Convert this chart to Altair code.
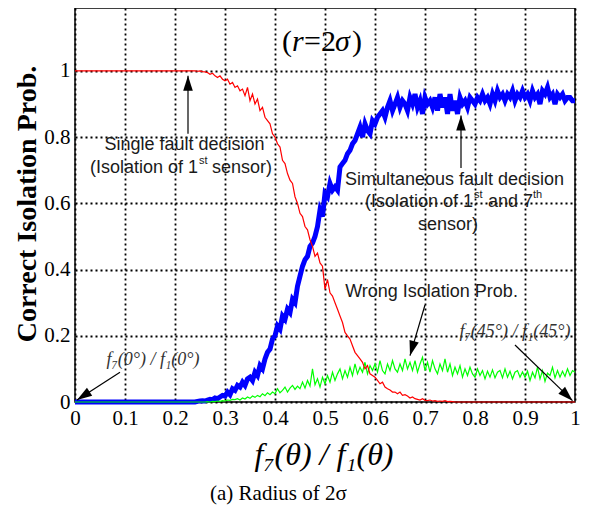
import altair as alt
import pandas as pd

# sampling grid of the ratio f7/f1 (0 .. 1, step 0.005)
X = [round(i * 0.005, 3) for i in range(201)]

# Single fault decision (red)
single = [
    1, 1, 1, 1, 1, 1, 1, 1, 1, 1,
    1, 1, 1, 1, 1, 1, 1, 1, 1, 1,
    1, 1, 1, 1, 1, 1, 1, 1, 1, 1,
    1, 1, 1, 1, 1, 1, 1, 1, 1, 1,
    1, 1, 1, 1, 1, 1, 1, 1, 1.0, 0.999,
    1.0, 0.998, 0.997, 0.995, 0.99, 0.993, 0.985, 0.98, 0.985, 0.975,
    0.97, 0.975, 0.96, 0.965, 0.95, 0.955, 0.94, 0.945, 0.925, 0.95,
    0.91, 0.93, 0.9, 0.915, 0.88, 0.89, 0.86, 0.85, 0.84, 0.81,
    0.80, 0.78, 0.77, 0.73, 0.72, 0.69, 0.67, 0.66, 0.62, 0.60,
    0.57, 0.56, 0.53, 0.52, 0.49, 0.47, 0.44, 0.45, 0.42, 0.41,
    0.34, 0.37, 0.33, 0.32, 0.30, 0.28, 0.26, 0.24, 0.21, 0.20,
    0.19, 0.17, 0.15, 0.14, 0.13, 0.12, 0.10, 0.11, 0.085, 0.08,
    0.075, 0.065, 0.055, 0.06, 0.045, 0.04, 0.036, 0.03, 0.03, 0.025,
    0.03, 0.02, 0.022, 0.018, 0.012, 0.015, 0.01, 0.008, 0.006, 0.01,
    0.005, 0.004, 0.006, 0.003, 0.004, 0.002, 0.003, 0.002, 0.004, 0.001,
    0.002, 0.001, 0, 0, 0, 0, 0, 0, 0, 0,
    0, 0, 0, 0, 0, 0, 0, 0, 0, 0,
    0, 0, 0, 0, 0, 0, 0, 0, 0, 0,
    0, 0, 0, 0, 0, 0, 0, 0, 0, 0,
    0, 0, 0, 0, 0, 0, 0, 0, 0, 0,
    0,
]

# Simultaneous fault decision (blue)
simult = [
    0, 0, 0, 0, 0, 0, 0, 0, 0, 0,
    0, 0, 0, 0, 0, 0, 0, 0, 0, 0,
    0, 0, 0, 0, 0, 0, 0, 0, 0, 0,
    0, 0, 0, 0, 0, 0, 0, 0, 0, 0,
    0, 0, 0, 0, 0, 0, 0, 0, 0, 0.002,
    0.003, 0.004, 0.003, 0.006, 0.008, 0.007, 0.012, 0.01, 0.015, 0.02,
    0.018, 0.03, 0.022, 0.04, 0.035, 0.05, 0.045, 0.06, 0.05, 0.07,
    0.075, 0.065, 0.09, 0.08, 0.11, 0.1, 0.13, 0.15, 0.16, 0.19,
    0.2, 0.23, 0.22, 0.26, 0.25, 0.28, 0.27, 0.31, 0.3, 0.35,
    0.38, 0.41, 0.43, 0.44, 0.47, 0.48, 0.5, 0.53, 0.58, 0.56,
    0.63, 0.62, 0.66, 0.64, 0.65, 0.64, 0.71, 0.72, 0.73, 0.75,
    0.76, 0.78, 0.79, 0.81, 0.83, 0.80, 0.84, 0.82, 0.81, 0.85,
    0.84, 0.86, 0.87, 0.88, 0.86, 0.89, 0.91, 0.88, 0.90, 0.92,
    0.89, 0.91, 0.90, 0.88, 0.92, 0.90, 0.93, 0.89, 0.91, 0.87,
    0.92, 0.90, 0.91, 0.89, 0.92, 0.88, 0.93, 0.89, 0.92, 0.87,
    0.93, 0.88, 0.91, 0.87, 0.92, 0.90, 0.91, 0.89, 0.92, 0.91,
    0.90, 0.92, 0.91, 0.93, 0.91, 0.92, 0.90, 0.93, 0.91, 0.94,
    0.92, 0.93, 0.91, 0.93, 0.92, 0.94, 0.91, 0.93, 0.92, 0.94,
    0.92, 0.93, 0.91, 0.94, 0.92, 0.93, 0.90, 0.94, 0.93, 0.95,
    0.92, 0.93, 0.90, 0.93, 0.92, 0.93, 0.91, 0.92, 0.92, 0.91,
    0.91,
]

# Wrong isolation probability (green)
wrong = [
    0, 0, 0, 0, 0, 0, 0, 0, 0, 0,
    0, 0, 0, 0, 0, 0, 0, 0, 0, 0,
    0, 0, 0, 0, 0, 0, 0, 0, 0, 0,
    0, 0, 0, 0, 0, 0, 0, 0, 0, 0,
    0, 0, 0, 0, 0, 0, 0, 0, 0, 0,
    0, 0, 0, 0.001, 0, 0.002, 0.001, 0.003, 0.002, 0.004,
    0.003, 0.006, 0.005, 0.008, 0.007, 0.01, 0.006, 0.012, 0.009, 0.015,
    0.011, 0.018, 0.014, 0.02, 0.016, 0.025, 0.019, 0.028, 0.022, 0.03,
    0.025, 0.04, 0.028, 0.035, 0.045, 0.03, 0.042, 0.05, 0.038, 0.048,
    0.04, 0.06, 0.042, 0.065, 0.048, 0.1, 0.052, 0.07, 0.045, 0.075,
    0.055, 0.08, 0.06, 0.09, 0.065, 0.085, 0.1, 0.07, 0.095, 0.075,
    0.105, 0.08, 0.115, 0.085, 0.105, 0.09, 0.12, 0.085, 0.11, 0.095,
    0.115, 0.09, 0.125, 0.095, 0.085, 0.115, 0.095, 0.125, 0.1, 0.09,
    0.115, 0.095, 0.13, 0.1, 0.12, 0.095, 0.125, 0.09, 0.115, 0.135,
    0.095, 0.12, 0.09, 0.125, 0.1, 0.085, 0.115, 0.095, 0.13, 0.09,
    0.115, 0.08, 0.105, 0.085, 0.11, 0.075, 0.1, 0.08, 0.105, 0.085,
    0.075, 0.1, 0.08, 0.095, 0.07, 0.093, 0.075, 0.097, 0.073, 0.09,
    0.095, 0.073, 0.1, 0.075, 0.093, 0.07, 0.09, 0.095, 0.075, 0.091,
    0.075, 0.093, 0.065, 0.09, 0.073, 0.105, 0.07, 0.095, 0.062, 0.087,
    0.08, 0.105, 0.073, 0.095, 0.075, 0.093, 0.077, 0.1, 0.08, 0.095,
    0.09,
]

x_ticks = [0, 0.1, 0.2, 0.3, 0.4, 0.5, 0.6, 0.7, 0.8, 0.9, 1]
y_ticks = [0, 0.2, 0.4, 0.6, 0.8, 1]

SERIF = "Times New Roman, Liberation Serif, serif"
SANS = "Arial, Liberation Sans, sans-serif"

df = pd.DataFrame({"x": X, "single": single, "simult": simult, "wrong": wrong})

XS = alt.Scale(domain=[0, 1], nice=False, zero=False)
YS = alt.Scale(domain=[0, 1.19], nice=False, zero=False)

x_axis = alt.Axis(values=x_ticks, format="~g", title=None, grid=True, ticks=False, domain=False,
                  labelFont=SERIF, labelFontSize=21, labelColor="black",
                  labelPadding=5, labelFlush=False,
                  gridColor="black", gridDash=[2, 3], gridWidth=1.8, gridOpacity=1)
y_axis = alt.Axis(values=y_ticks, format="~g", title=None, grid=True, ticks=False, domain=False,
                  labelFont=SERIF, labelFontSize=21, labelColor="black",
                  labelPadding=5, labelFlush=False,
                  gridColor="black", gridDash=[2, 3], gridWidth=1.8, gridOpacity=1)

base = alt.Chart(df)
blue = base.mark_line(color="#0000FF", strokeWidth=5).encode(
    x=alt.X("x:Q", scale=XS, axis=x_axis), y=alt.Y("simult:Q", scale=YS, axis=y_axis))
green = base.mark_line(color="#00FF00", strokeWidth=1.2).encode(
    x=alt.X("x:Q", scale=XS), y=alt.Y("wrong:Q", scale=YS))
red = base.mark_line(color="#FF0000", strokeWidth=1.2).encode(
    x=alt.X("x:Q", scale=XS), y=alt.Y("single:Q", scale=YS))

# arrows (annotation)
arrows = pd.DataFrame({
    "x": [0.226, 0.772, 0.70, 0.09, 0.88],
    "y": [0.81, 0.707, 0.293, 0.09, 0.172],
    "x2": [0.226, 0.772, 0.67, 0.004, 0.995],
    "y2": [0.985, 0.865, 0.14, 0.006, 0.004],
    "angle": [0, 0, 196, 237, 134],
})
arrow_lines = alt.Chart(arrows).mark_rule(color="black", strokeWidth=1.2).encode(
    x=alt.X("x:Q", scale=XS), y=alt.Y("y:Q", scale=YS), x2="x2:Q", y2="y2:Q")
arrow_heads = alt.Chart(arrows).mark_point(
    shape="M0,0L-0.32,1L0.32,1Z", filled=True, size=900, color="black", opacity=1).encode(
    x=alt.X("x2:Q", scale=XS), y=alt.Y("y2:Q", scale=YS), angle=alt.Angle("angle:Q", scale=None))


def text_layer(rows, **mark):
    d = pd.DataFrame(rows, columns=["x", "y", "t"])
    return alt.Chart(d).mark_text(baseline="middle", **mark).encode(
        x=alt.X("x:Q", scale=XS), y=alt.Y("y:Q", scale=YS), text="t:N")


sans_c = text_layer([
    (0.219, 0.776, "Single fault decision"),
    (0.759, 0.671, "Simultaneous fault decision"),
    (0.746, 0.535, "sensor)"),
    (0.713, 0.332, "Wrong Isolation Prob."),
], font=SANS, fontSize=18, color="#1a1a1a", align="center")
sans_l = text_layer([
    (0.03, 0.707, "(Isolation of 1"),
    (0.274, 0.707, "sensor)"),
    (0.58, 0.604, "(Isolation of 1"),
    (0.826, 0.604, "and 7"),
], font=SANS, fontSize=18, color="#1a1a1a", align="left")
sup = text_layer([
    (0.248, 0.728, "st"),
    (0.798, 0.625, "st"),
    (0.916, 0.625, "th"),
], font=SANS, fontSize=11, color="#1a1a1a", align="left")
math = text_layer([
    (0.156, 0.127, "f₇(0°) / f₁(0°)"),
    (0.88, 0.211, "f₇(45°) / f₁(45°)"),
], font=SERIF, fontSize=18, fontStyle="italic", color="#333333", align="center")
radius_up = text_layer([
    (0.414, 1.088, "("),
    (0.458, 1.088, "="),
    (0.492, 1.088, "2"),
    (0.554, 1.088, ")"),
], font=SERIF, fontSize=30, color="black", align="left")
radius_it = text_layer([
    (0.434, 1.088, "r"),
    (0.52, 1.088, "σ"),
], font=SERIF, fontSize=30, fontStyle="italic", color="black", align="left")
ytitle = text_layer([
    (-0.094, 0.598, "Correct Isolation Prob."),
], font=SERIF, fontSize=28, fontWeight="bold", color="black", align="center", angle=270)
xtitle = text_layer([
    (0.498, -0.16, "f₇(θ) / f₁(θ)"),
], font=SERIF, fontSize=32, fontStyle="italic", color="black", align="center")
caption = text_layer([
    (0.27, -0.279, "(a) Radius of 2σ"),
], font=SERIF, fontSize=21, color="black", align="left")

chart = alt.layer(
    blue, green, red, arrow_lines, arrow_heads,
    sans_c, sans_l, sup, math, radius_up, radius_it, ytitle, xtitle, caption,
).properties(
    width=500, height=394,
    padding={"left": 67, "top": 0, "right": 6, "bottom": 104},
    autosize=alt.AutoSizeParams(type="none"),
    background="white",
).configure_view(stroke="black", strokeWidth=1.5)

chart.save("out.html", embed_options={"renderer": "svg", "actions": False})
